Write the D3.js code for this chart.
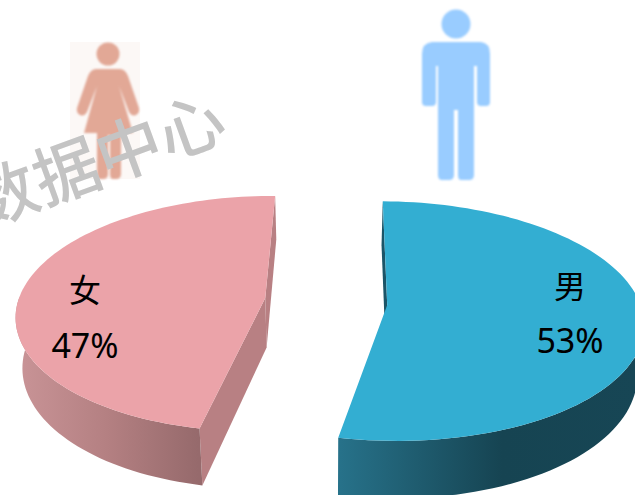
<!DOCTYPE html>
<html>
<head>
<meta charset="utf-8">
<script src="https://cdn.jsdelivr.net/npm/d3@7/dist/d3.min.js"></script>
<style>
html,body{margin:0;padding:0;background:#fff;overflow:hidden}
svg{display:block}
text{font-family:"Noto Sans CJK SC","Noto Sans",sans-serif}
</style>
</head>
<body>
<svg id="chart" width="635" height="495"></svg>
<script>
// Gender split, drawn as an exploded 3D pie.
const categories = ["男", "女"];
const shares = [53, 47];
const shareLabels = ["53%", "47%"];
const topColors = ["#33aed2", "#eba3a9"];
const flatWallColors = ["#1b5568", "#b88083"];
const watermark = "数据中心";

const width = 635, height = 495;
const svg = d3.select("#chart").attr("viewBox", [0, 0, width, height]);

// Perspective camera: depth maps linearly to 1/s, with s measured from the vanishing point.
const vanish = { x: 327, y: -569 };
const depthRadius = 0.154, wallDepth = 0.057, wallPinch = 0.022;
const hubs = [{ x: 0.0689, w: 1.1442, radius: 0.29 }, { x: -0.0712, w: 1.1534, radius: 0.284 }];

// Screen position of a point on a slice's rim (r = 1) or hub (r = 0).
function project(hub, angle, r, lower) {
  const X = hub.x + r * hub.radius * Math.sin(angle);
  const w = hub.w + r * depthRadius * Math.cos(angle);
  const s = 1000 / w;
  const px = vanish.x + X * s, py = vanish.y + s;
  if (!lower) return [px, py];
  return [vanish.x + (px - vanish.x) * (1 - wallPinch), vanish.y + (py - vanish.y) * (1 + wallDepth)];
}

const startRotation = 0.012;
const arcs = d3.pie().sort(null).value(d => d).startAngle(startRotation).endAngle(startRotation + 2 * Math.PI)(shares);
const line = d3.line();
const steps = a => d3.range(0, 97).map(i => a.startAngle + (a.endAngle - a.startAngle) * i / 96);

const defs = svg.append("defs");
function sideGradient(id, x1, x2, stops) {
  const g = defs.append("linearGradient").attr("id", id)
    .attr("gradientUnits", "userSpaceOnUse")
    .attr("x1", x1).attr("x2", x2).attr("y1", 0).attr("y2", 0);
  stops.forEach(([o, c]) => g.append("stop").attr("offset", o).attr("stop-color", c));
}
sideGradient("sideBlue", 338, 636, [[0, "#27728a"], [0.55, "#164452"], [1, "#174655"]]);
sideGradient("sidePink", 16, 198, [[0, "#c99497"], [0.5, "#b48082"], [1, "#966a6c"]]);
defs.append("filter").attr("id", "soft").append("feGaussianBlur").attr("stdDeviation", 0.8);

const sideFill = ["url(#sideBlue)", "url(#sidePink)"];

arcs.forEach((a, i) => {
  const hub = hubs[i];
  const g = svg.append("g").attr("class", "slice");

  // Straight wall along the far radius (start of the blue slice, end of the pink one).
  const farAngle = i === 0 ? a.startAngle : a.endAngle;
  g.append("path")
    .attr("d", line([project(hub, farAngle, 1), project(hub, farAngle, 0),
                     project(hub, farAngle, 0, true), project(hub, farAngle, 1, true)]) + "Z")
    .attr("fill", flatWallColors[i]);

  // Straight wall along the near radius, only visible on the pink slice.
  if (i === 1) {
    g.append("path")
      .attr("d", line([project(hub, a.startAngle, 0), project(hub, a.startAngle, 1),
                       project(hub, a.startAngle, 1, true), project(hub, a.startAngle, 0, true)]) + "Z")
      .attr("fill", flatWallColors[i]);
  }

  // Curved outer wall, the part of the rim that faces the viewer.
  const rim = steps(a).filter(t => Math.cos(t) <= 0.02);
  g.append("path")
    .attr("d", line(rim.map(t => project(hub, t, 1)).concat(rim.slice().reverse().map(t => project(hub, t, 1, true)))) + "Z")
    .attr("fill", sideFill[i]);

  // Top face.
  g.append("path")
    .attr("d", line([project(hub, a.startAngle, 0)].concat(steps(a).map(t => project(hub, t, 1)))) + "Z")
    .attr("fill", topColors[i]);
});

// Person pictograms above each slice.
const man = svg.append("g").attr("filter", "url(#soft)").attr("fill", "#99ccff");
man.append("circle").attr("cx", 456).attr("cy", 24).attr("r", 14.5);
man.append("path").attr("d",
  "M432 42H481Q490 43 490 54V102Q490 106 486 106H481Q477 106 477 102V66H474V175Q474 180 469 180H461Q458 180 458 175V110H454V175Q454 180 449 180H442Q438 180 438 175V66H436V102Q436 106 432 106H426Q422 106 422 102V54Q422 43 432 42Z");

svg.append("rect").attr("x", 70).attr("y", 42).attr("width", 70).attr("height", 137).attr("fill", "#fcf8f6");
const woman = svg.append("g").attr("filter", "url(#soft)").attr("fill", "#e2a896");
woman.append("circle").attr("cx", 108).attr("cy", 54).attr("r", 11.5);
woman.append("path").attr("d",
  "M96 69H120Q125 69 128 76L139 108Q140 113 136 115Q132 117 129 112L119 86L133 133H121V174Q121 179 116 179H113Q110 179 110 174V135H108V174Q108 179 103 179H100Q97 179 97 174V133H84L97 86L87 112Q84 117 80 115Q76 113 77 108L88 76Q91 69 96 69Z");

// Category and share labels.
const labelPos = [{ x: 570, y1: 298, y2: 353 }, { x: 85, y1: 302, y2: 358 }];
categories.forEach((c, i) => {
  svg.append("text").attr("x", labelPos[i].x).attr("y", labelPos[i].y1)
    .attr("text-anchor", "middle").attr("font-size", 32).attr("fill", "#000").text(c);
  svg.append("text").attr("x", labelPos[i].x).attr("y", labelPos[i].y2)
    .attr("text-anchor", "middle").attr("font-size", 34)
    .style("font-family", '"Noto Sans",sans-serif').attr("fill", "#000").text(shareLabels[i]);
});

// Diagonal watermark across the upper left.
svg.append("text")
  .attr("transform", "translate(106,183) rotate(-20)")
  .attr("text-anchor", "middle").attr("font-size", 66).attr("font-weight", 500)
  .attr("fill", "#c4c4c4").text(watermark);
</script>
</body>
</html>
